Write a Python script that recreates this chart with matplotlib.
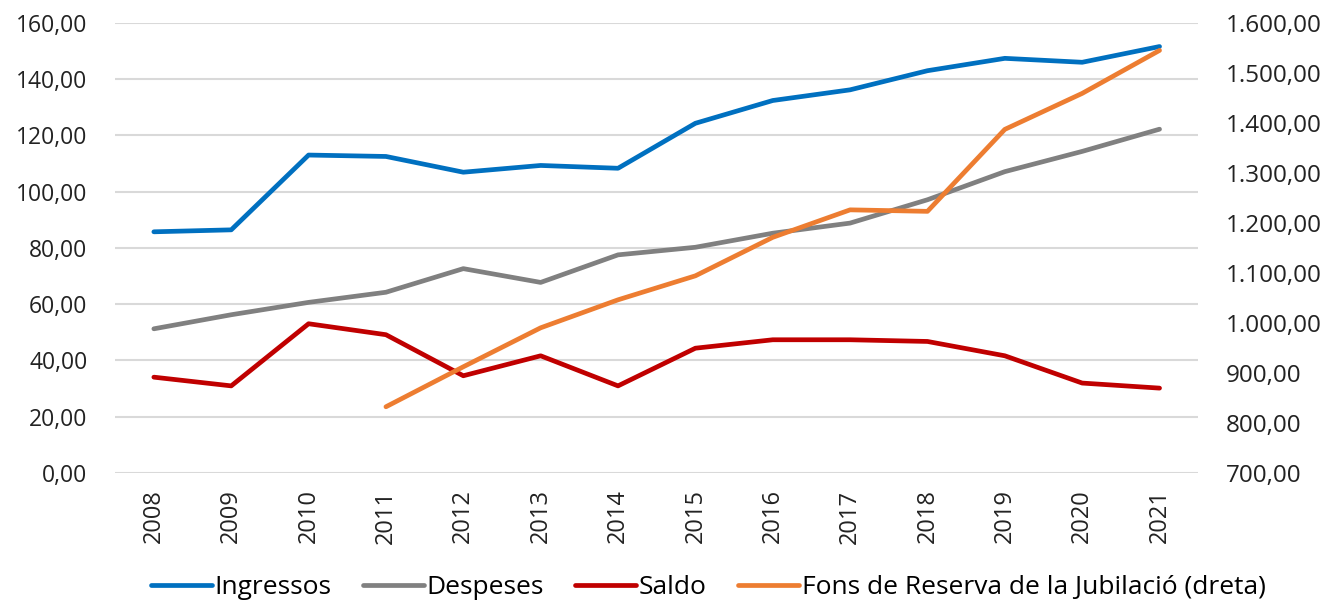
import matplotlib
matplotlib.use('Agg')
import matplotlib.pyplot as plt
from matplotlib.ticker import FuncFormatter
import numpy as np

years = ['2008', '2009', '2010', '2011', '2012', '2013', '2014',
         '2015', '2016', '2017', '2018', '2019', '2020', '2021']
ingressos = [85.7, 86.4, 113.0, 112.5, 106.9, 109.3, 108.3,
             124.3, 132.4, 136.2, 143.0, 147.4, 146.0, 151.6]
despeses = [51.2, 56.2, 60.6, 64.2, 72.6, 67.7, 77.5,
            80.2, 85.2, 88.8, 97.1, 107.1, 114.3, 122.2]
saldo = [34.0, 30.9, 53.0, 49.1, 34.5, 41.6, 30.9,
         44.3, 47.3, 47.3, 46.7, 41.6, 31.9, 30.1]
# fons de reserva, from 2011 on (right axis)
fons_years = years[3:]
fons = [832, 912, 990, 1046, 1094, 1171, 1226, 1223, 1387, 1459, 1545]

plt.rcParams['font.family'] = ['Open Sans', 'DejaVu Sans']


def fmt(v, pos):
    s = '{:,.2f}'.format(v)
    return s.replace(',', 'X').replace('.', ',').replace('X', '.')


fig = plt.figure(figsize=(13.24, 6.03), dpi=100)
ax = fig.add_axes([0.087, 0.216, 0.818, 0.746])
ax2 = ax.twinx()

x = np.arange(len(years))
xf = np.arange(3, len(years))
lw = 3.4
l1, = ax.plot(x, ingressos, color='#0070C0', lw=lw, solid_capstyle='round')
l2, = ax.plot(x, despeses, color='#808080', lw=lw, solid_capstyle='round')
l3, = ax.plot(x, saldo, color='#C00000', lw=lw, solid_capstyle='round')
l4, = ax2.plot(xf, fons, color='#ED7D31', lw=lw, solid_capstyle='round')

ax.set_xlim(-0.5, len(years) - 0.5)
ax.set_ylim(0, 160)
ax.set_yticks(np.arange(0, 161, 20))
ax2.set_ylim(700, 1600)
ax2.set_yticks(np.arange(700, 1601, 100))
ax.yaxis.set_major_formatter(FuncFormatter(fmt))
ax2.yaxis.set_major_formatter(FuncFormatter(fmt))

ax.set_xticks(x)
ax.set_xticklabels(years, rotation=90)
ax.grid(axis='y', color='#D9D9D9', lw=1.5)
ax.set_axisbelow(True)

for a in (ax, ax2):
    for s in a.spines.values():
        s.set_visible(False)
    a.tick_params(length=0, labelsize=16.5, colors='#222222')
ax2.tick_params(axis='y', labelsize=17.5)
ax.tick_params(axis='y', pad=20)
ax2.tick_params(axis='y', pad=20)
ax.tick_params(axis='x', pad=12, labelsize=17)

fig.legend([l1, l2, l3, l4],
           ['Ingressos', 'Despeses', 'Saldo', 'Fons de Reserva de la Jubilació (dreta)'],
           loc='lower center', bbox_to_anchor=(0.535, -0.035), ncol=4,
           frameon=False, fontsize=19, handlelength=2.3, handletextpad=0.1,
           columnspacing=1.2)

fig.savefig('out.png', dpi=100)
